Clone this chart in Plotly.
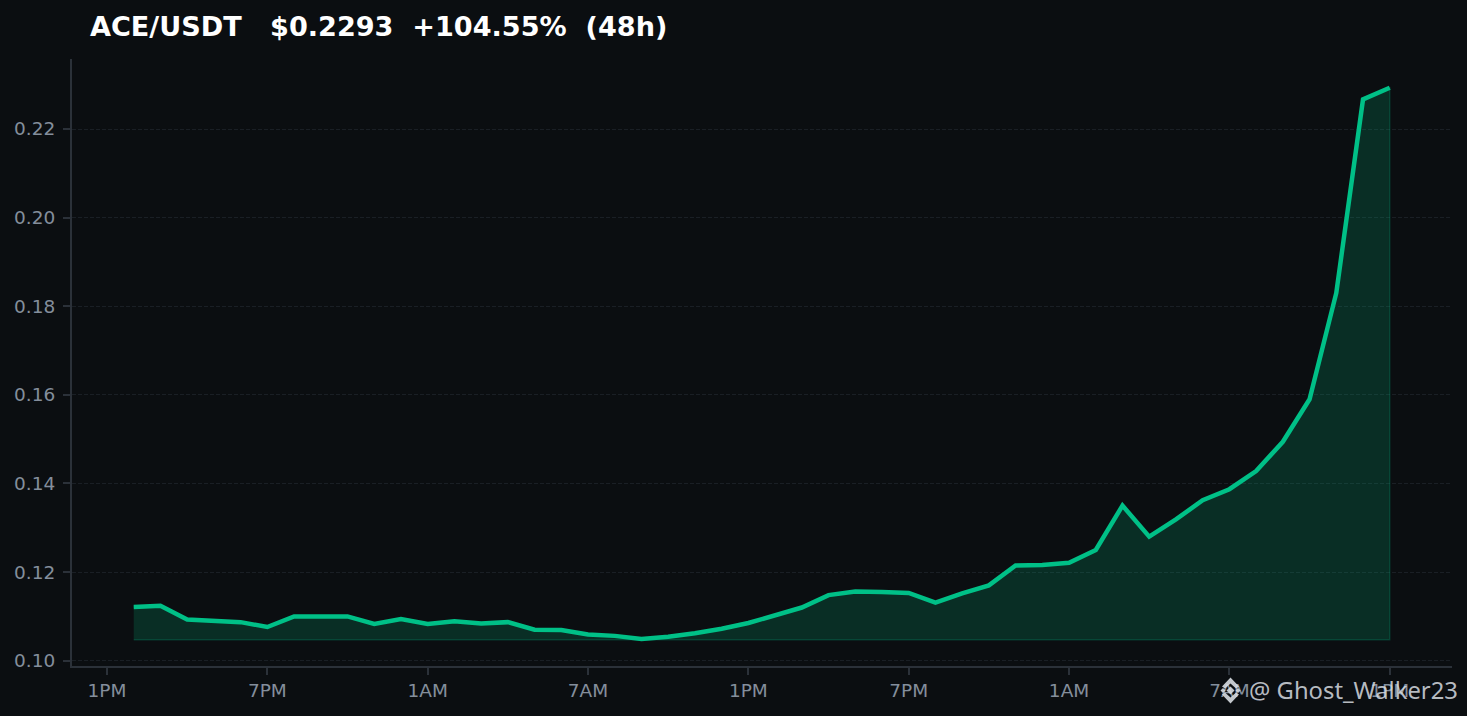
import plotly.graph_objects as go

# hours since 1PM on the first day, one point per hour
hours = list(range(1, 49))
price = [0.1121, 0.1124, 0.1093, 0.1091, 0.1087, 0.1076, 0.1100, 0.1100,
         0.1100, 0.1083, 0.1094, 0.1083, 0.1089, 0.1084, 0.1087, 0.1070,
         0.1069, 0.1059, 0.1056, 0.1049, 0.1054, 0.1062, 0.1072, 0.1085,
         0.1103, 0.1120, 0.1148, 0.1156, 0.1155, 0.1153, 0.1131, 0.1152,
         0.1170, 0.1215, 0.1216, 0.1221, 0.1250, 0.1350, 0.1280, 0.1319,
         0.1362, 0.1387, 0.1428, 0.1494, 0.1590, 0.1830, 0.2267, 0.2293]
fill_base = 0.1047

x_ticks = [0, 6, 12, 18, 24, 30, 36, 42, 48]
x_labels = ['1PM', '7PM', '1AM', '7AM', '1PM', '7PM', '1AM', '7AM', '1PM']
y_ticks = [0.10, 0.12, 0.14, 0.16, 0.18, 0.20, 0.22]
y_labels = ['0.10', '0.12', '0.14', '0.16', '0.18', '0.20', '0.22']

BG = '#0b0e11'
GREEN = '#00c087'
SPINE = '#2b3139'
TICK = '#848e9c'

W, H = 1467, 716
L, R, T, B = 72, 15, 59, 50


def px(x):
    return (x - L) / (W - L - R)


def py(y):
    return 1 - (y - T) / (H - T - B)


def diamond(cx, cy, r):
    return (f'M {px(cx - r)} {py(cy)} L {px(cx)} {py(cy - r)} '
            f'L {px(cx + r)} {py(cy)} L {px(cx)} {py(cy + r)} Z')


fig = go.Figure()

# area under the line, closed along the base
fig.add_trace(go.Scatter(
    x=hours + hours[::-1],
    y=price + [fill_base] * len(hours),
    mode='lines',
    fill='toself',
    fillcolor='rgba(0,192,135,0.18)',
    line=dict(color='rgba(0,192,135,0.22)', width=1.5),
    hoverinfo='skip',
    showlegend=False,
))
fig.add_trace(go.Scatter(
    x=hours,
    y=price,
    mode='lines',
    line=dict(color=GREEN, width=4.5),
    showlegend=False,
))

fig.update_xaxes(
    range=[-1.31, 50.33],
    tickmode='array', tickvals=x_ticks, ticktext=x_labels,
    showgrid=False, zeroline=False,
    showline=True, linecolor=SPINE, linewidth=2,
    ticks='outside', tickcolor=SPINE, ticklen=7, tickwidth=2,
    tickfont=dict(family='DejaVu Sans', size=18.5, color=TICK),
)
fig.update_yaxes(
    range=[0.0988, 0.2358],
    tickmode='array', tickvals=y_ticks, ticktext=y_labels,
    showgrid=True, gridcolor='#1a1f25', griddash='4px,2px', gridwidth=1,
    zeroline=False,
    showline=True, linecolor=SPINE, linewidth=2,
    ticks='outside', tickcolor=SPINE, ticklen=7, tickwidth=2,
    ticklabelstandoff=4,
    tickfont=dict(family='DejaVu Sans', size=18.5, color=TICK),
)

logo = 'rgba(215,220,225,0.9)'
shapes = [dict(type='path', xref='paper', yref='paper', path=diamond(cx, cy, r),
               fillcolor=logo, line=dict(width=0), layer='above')
          for cx, cy, r in [(1230.5, 690.5, 4), (1223, 690.5, 2.5), (1238, 690.5, 2.5)]]
# the two chevrons of the logo
shapes += [dict(type='path', xref='paper', yref='paper',
                path=(f'M {px(1222)} {py(cy + s * 9)} L {px(1230.5)} {py(cy)} L {px(1239)} {py(cy + s * 9)} '
                      f'L {px(1236)} {py(cy + s * 11)} L {px(1230.5)} {py(cy + s * 6)} L {px(1225)} {py(cy + s * 11)} Z'),
                fillcolor=logo, line=dict(width=0), layer='above')
           for cy, s in [(677.5, 1), (703.5, -1)]]

fig.update_layout(
    width=W, height=H,
    margin=dict(l=L, r=R, t=T, b=B, autoexpand=False),
    paper_bgcolor=BG, plot_bgcolor=BG,
    showlegend=False,
    shapes=shapes,
    annotations=[
        dict(text='<b>ACE/USDT   $0.2293  +104.55%  (48h)</b>',
             xref='paper', yref='paper', x=px(88), y=py(26.5),
             xanchor='left', yanchor='middle', showarrow=False,
             font=dict(family='DejaVu Sans', size=27.1, color='#ffffff')),
        dict(text='@ Ghost_Walker23',
             xref='paper', yref='paper', x=px(1460), y=py(690),
             xanchor='right', yanchor='middle', showarrow=False,
             font=dict(family='Noto Sans', size=23.8, color='rgba(215,220,225,0.85)')),
    ],
)

fig.write_html("out.html", config=dict(displayModeBar=False),
               post_script="document.body.style.margin='0';document.body.style.background='#0b0e11';")
